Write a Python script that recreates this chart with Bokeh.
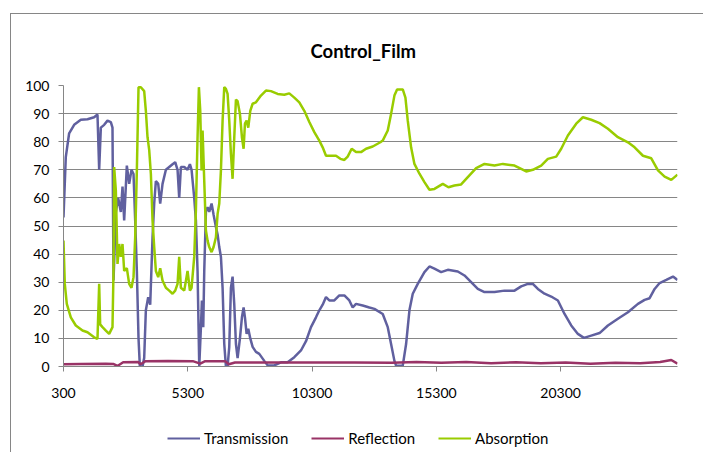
from bokeh.plotting import figure
from bokeh.layouts import column
from bokeh.models import FixedTicker, Legend, LegendItem, Range1d
from bokeh.embed import file_html
from bokeh.resources import INLINE

title_text = "Control_Film"
x_ticks = [300, 5300, 10300, 15300, 20300]
y_ticks = [0, 10, 20, 30, 40, 50, 60, 70, 80, 90, 100]
series_names = ["Transmission", "Reflection", "Absorption"]
series_colors = ["#60609F", "#993366", "#99CC00"]

trans_x = [300, 392, 527, 728, 996, 1265, 1533, 1667, 1735, 1802, 1936, 2070, 2204, 2271, 2312, 2406,
           2499, 2607, 2674, 2741, 2848, 2942, 3036, 3117, 3184, 3251, 3318, 3372, 3479, 3546, 3613,
           3707, 3788, 3882, 3949, 4016, 4110, 4190, 4284, 4419, 4553, 4687, 4794, 4888, 4955, 5022,
           5157, 5291, 5385, 5452, 5559, 5626, 5693, 5761, 5828, 5868, 5922, 5962, 6029, 6096, 6163,
           6257, 6338, 6432, 6499, 6566, 6633, 6700, 6767, 6834, 6901, 6968, 7035, 7102, 7170, 7237,
           7304, 7398, 7478, 7545, 7599, 7666, 7733, 7814, 7908, 8042, 8176, 8377, 8511, 8780, 9048,
           9316, 9585, 9853, 10055, 10256, 10457, 10591, 10726, 10860, 10994, 11195, 11397, 11598,
           11799, 11933, 12068, 12336, 12604, 12807, 13142, 13344, 13478, 13612, 13679, 13948, 14082,
           14216, 14350, 14551, 14820, 15021, 15222, 15491, 15759, 16162, 16430, 16699, 16967, 17235,
           17638, 18041, 18443, 18712, 18980, 19181, 19383, 19651, 19919, 20188, 20456, 20725, 20993,
           21235, 21530, 21865, 22201, 22603, 23006, 23409, 23677, 23878, 24080, 24281, 24549, 24818,
           25000]
trans_y = [53, 74.5, 83, 86, 87.8, 88, 88.7, 89.7, 70, 85, 86, 87.5, 87, 85, 30.6, 55,
           60, 55, 64, 52, 71.5, 65, 70, 68.5, 52, 34, 10, 0, 0, 3, 20,
           24.7, 22, 46, 58, 66, 65, 58, 65, 70, 71, 72, 72.7, 70, 60, 71,
           71, 70, 72, 70, 60, 52, 34, 0, 14, 23.5, 14, 34, 55, 56.7, 55,
           58, 54, 49.6, 47, 42.5, 39, 28, 8, 0, 0, 7, 28, 32, 22, 8,
           3, 10, 17.5, 21, 17.5, 11.6, 13.4, 10, 7, 5.2, 4.5, 2, 0.4, 0.4, 1.5,
           1.5, 3.3, 5.7, 9, 14, 17.5, 20, 22, 24.7, 23.5, 23.5, 25.3, 25.3,
           23.5, 21, 22.3, 21.7, 21, 20.5, 18.7, 14, 8, 2, 0.3, 0.3, 8,
           20, 25.9, 29.4, 33.6, 35.6, 34.8, 33.6, 34.4, 33.8, 32.4, 30, 27.6, 26.5,
           26.5, 27, 27, 28.5, 29.4, 29.4, 27.6, 25.9, 24.9, 23.5, 18.7, 14.6, 11.6,
           10.2, 11, 11.9, 14.6, 17, 19.3, 22.3, 23.7, 24.3, 27.6, 29.7, 30.8, 32,
           30.8]

refl_x = [300, 1000, 2000, 2300, 2470, 2700, 3300, 3400, 3600, 4500, 5500, 5800, 6000, 6800, 6950,
          7200, 9000, 12000, 13500, 14500, 15500, 16500, 17500, 18500, 19500, 20500, 21500, 22500,
          23500, 24300, 24750, 25000]
refl_y = [0.8, 0.9, 1.0, 0.9, 0.2, 1.5, 1.6, 0.8, 1.9, 2.0, 1.9, 1.0, 1.9, 1.9, 0.8,
          1.4, 1.4, 1.4, 1.3, 1.6, 1.3, 1.6, 1.2, 1.5, 1.2, 1.4, 1.0, 1.3,
          1.2, 1.6, 2.3, 1.0]

abs_x = [300, 352, 433, 594, 795, 1064, 1265, 1533, 1667, 1735, 1775, 1869, 2003, 2137, 2271, 2312,
         2338, 2406, 2473, 2540, 2607, 2674, 2741, 2848, 2942, 3036, 3117, 3184, 3251, 3318, 3412,
         3546, 3613, 3680, 3748, 3815, 3882, 3949, 4016, 4110, 4190, 4284, 4419, 4553, 4687, 4794,
         4888, 4955, 5022, 5157, 5291, 5385, 5452, 5559, 5626, 5693, 5747, 5801, 5854, 5895, 5962,
         6029, 6096, 6163, 6257, 6338, 6432, 6499, 6566, 6633, 6700, 6767, 6834, 6901, 6968, 7035,
         7102, 7170, 7237, 7304, 7398, 7478, 7545, 7599, 7666, 7733, 7814, 7908, 8042, 8243, 8444,
         8645, 8914, 9182, 9383, 9585, 9786, 9987, 10189, 10390, 10591, 10726, 10860, 11061, 11262,
         11437, 11598, 11732, 11893, 12068, 12269, 12471, 12739, 13047, 13142, 13344, 13478, 13612,
         13719, 13948, 14055, 14149, 14283, 14417, 14619, 14820, 15021, 15222, 15558, 15786, 16028,
         16296, 16564, 16900, 17235, 17638, 17974, 18443, 18712, 18913, 19181, 19517, 19785, 20121,
         20322, 20590, 20926, 21194, 21530, 21865, 22201, 22603, 23006, 23274, 23610, 23945, 24214,
         24482, 24750, 25000]
abs_y = [44.8, 29.4, 22.3, 17.5, 14.6, 12.8, 12.2, 10.4, 9.8, 29.4, 15, 14, 12.8, 11.6, 14, 34,
         71, 62.6, 36.5, 43.6, 39, 43.6, 34, 35, 29.4, 28, 31.8, 46, 69.8, 99.4, 99.4,
         98, 91, 81.6, 77, 68.5, 52, 42.5, 34, 31.8, 35, 30.6, 28, 27, 25.9, 27,
         29.4, 39, 28, 27, 34, 27, 28, 39, 55.5, 81.6, 99.4, 91, 69.8, 84, 66,
         48.4, 44.8, 42.5, 40.7, 42.5, 46, 54.3, 58, 69.8, 87.5, 99.4, 98.8, 97, 87.5, 75.7,
         66.8, 81.6, 95, 94.4, 89.9, 81.6, 77.5, 86.4, 87.5, 85, 91, 93.5, 94, 96.4, 98.2,
         98, 97, 96.7, 97.2, 95.7, 94, 91, 87, 83.4, 80.4, 78, 75, 75, 75,
         73.9, 73.5, 74.7, 77.5, 76.3, 76.3, 77.5, 78.3, 79.8, 80.4, 84, 89.9, 96.4,
         98.6, 98.6, 95.7, 87.5, 78, 72.1, 68.6, 65.6, 62.9, 63.2, 65, 63.8, 64.4,
         64.8, 67.4, 70.6, 72.1, 71.5, 72.1, 71.5, 70.3, 69.4, 70, 71.5, 73.9, 74.7,
         77.5, 82.2, 86.4, 88.7, 87.8, 86.6, 84.6, 81.6, 79.8, 78, 75, 74.1, 69.8,
         67.6, 66.4, 68.3]

series_x = [trans_x, refl_x, abs_x]
series_y = [trans_y, refl_y, abs_y]

FONT = "Lato"
GRID = "#868686"
BORDER = "1px solid #868686"

p = figure(width=693, height=402, output_backend="svg", toolbar_location=None,
           x_range=Range1d(300, 25000), y_range=Range1d(0, 100),
           min_border_left=52, min_border_right=27, min_border_top=71, min_border_bottom=50,
           styles={"border-left": BORDER, "border-top": BORDER})
p.outline_line_color = None
p.background_fill_color = "white"
p.border_fill_color = "white"

p.title.text = title_text
p.title.align = "left"
p.title.offset = 247
p.title.text_font = FONT
p.title.text_font_style = "bold"
p.title.text_font_size = "18.5px"
p.title.text_color = "black"
p.title.standoff = 47

for xs, ys, color in zip(series_x, series_y, series_colors):
    p.line(xs, ys, line_color=color, line_width=2.5)

p.xaxis.ticker = FixedTicker(ticks=x_ticks)
p.xaxis.major_label_overrides = {t: str(t) for t in x_ticks}
p.yaxis.ticker = FixedTicker(ticks=y_ticks)
for ax in (p.xaxis, p.yaxis):
    ax.axis_line_color = GRID
    ax.major_tick_line_color = GRID
    ax.major_tick_out = 5
    ax.major_tick_in = 0
    ax.minor_tick_line_color = None
    ax.major_label_text_font = FONT
    ax.major_label_text_font_size = "14px"
    ax.major_label_text_color = "black"
p.xaxis.major_label_standoff = 16
p.yaxis.major_label_standoff = 9

p.xgrid.grid_line_color = None
p.ygrid.ticker = FixedTicker(ticks=y_ticks)
p.ygrid.grid_line_color = GRID
p.ygrid.grid_line_width = 1

# legend strip below the chart (its lines carry the same series, out of view)
lg = figure(width=693, height=37, output_backend="svg", toolbar_location=None,
            x_range=Range1d(300, 25000), y_range=Range1d(1000, 1001),
            x_axis_type=None, y_axis_type=None, min_border=0,
            styles={"border-left": BORDER})
lg.outline_line_color = None
lg.xgrid.visible = False
lg.ygrid.visible = False
items = []
for name, xs, ys, color in zip(series_names, series_x, series_y, series_colors):
    r = lg.line(xs, ys, line_color=color, line_width=2)
    items.append(LegendItem(label=name, renderers=[r]))
legend = Legend(items=items, location=(104, 5), orientation="horizontal",
                border_line_alpha=0, background_fill_alpha=0,
                spacing=23, label_standoff=4, glyph_width=33, glyph_height=16,
                label_height=16, padding=0, margin=0,
                label_text_font=FONT, label_text_font_size="15px", label_text_color="black")
lg.add_layout(legend, "center")

layout = column(p, lg, spacing=0, styles={"margin-left": "10px", "margin-top": "13px"})

open("out.html", "w").write(file_html(layout, INLINE))
